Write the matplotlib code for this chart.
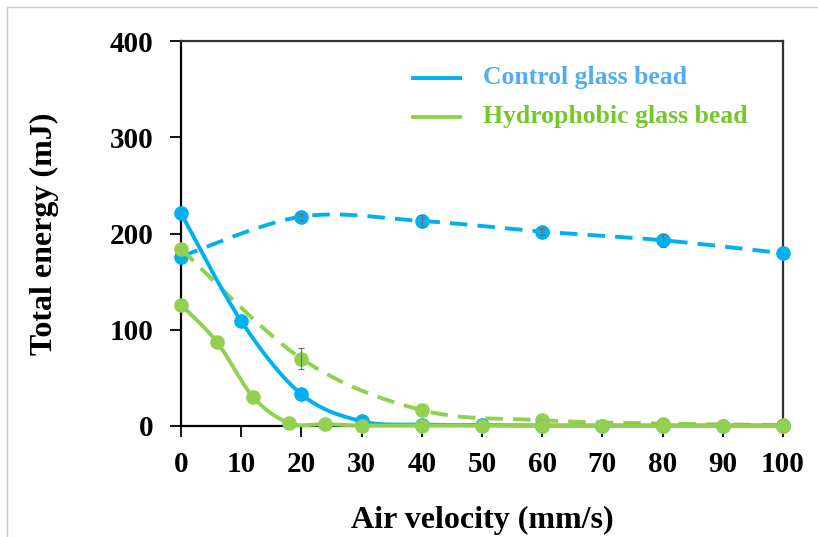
import numpy as np
import matplotlib
matplotlib.use("Agg")
import matplotlib.pyplot as plt
from matplotlib.patches import Rectangle
from matplotlib.lines import Line2D

# ---- data ----
ctrl_solid_x = [0, 10, 20, 30, 40, 50, 60, 70, 80, 90, 100]
ctrl_solid_y = [221, 109, 33, 5, 1.5, 1, 0.5, 0.5, 0.5, 0.5, 0.5]

ctrl_dash_x = [0, 20, 40, 60, 80, 100]
ctrl_dash_y = [176, 217.5, 213, 202, 193, 179.5]
ctrl_dash_err = [0, 3, 6.5, 4, 7, 0]

hyd_dash_x = [0, 20, 40, 60, 80, 100]
hyd_dash_y = [184, 70, 16.5, 6, 2.5, 1]
hyd_dash_err = [0, 11, 0, 0, 0, 0]

hyd_solid_x = [0, 6, 12, 18, 24, 30, 40, 50, 60, 70, 80, 90, 100]
hyd_solid_y = [126, 87, 30, 3, 2, 0.5, 0.5, 0.5, 0.5, 0.5, 0.5, 0.5, 0.5]

xticks = [0, 10, 20, 30, 40, 50, 60, 70, 80, 90, 100]
yticks = [0, 100, 200, 300, 400]
legend_labels = ["Control glass bead", "Hydrophobic glass bead"]

BLUE = "#00B0F0"
GREEN = "#92D050"
BLUE_TXT = "#52ACF0"
GREEN_TXT = "#74C82A"


def smooth(x, y, n=40):
    """Excel-like smoothed line (Catmull-Rom Bezier)."""
    P = np.column_stack([x, y]).astype(float)
    out = []
    for i in range(len(P) - 1):
        p0 = P[i - 1] if i > 0 else P[i]
        p1 = P[i]
        p2 = P[i + 1]
        p3 = P[i + 2] if i + 2 < len(P) else P[i + 1]
        c1 = p1 + (p2 - p0) / 6.0
        c2 = p2 - (p3 - p1) / 6.0
        t = np.linspace(0, 1, n)[:, None]
        seg = ((1 - t) ** 3) * p1 + 3 * ((1 - t) ** 2) * t * c1 + 3 * (1 - t) * t ** 2 * c2 + t ** 3 * p2
        out.append(seg if i == 0 else seg[1:])
    out = np.vstack(out)
    return out[:, 0], out[:, 1]


def errbars(ax, x, y, e, z):
    xs = [a for a, c in zip(x, e) if c > 0]
    ys = [b for b, c in zip(y, e) if c > 0]
    es = [c for c in e if c > 0]
    if xs:
        ax.errorbar(xs, ys, yerr=es, fmt='none', ecolor="#707070",
                    elinewidth=0.8, capsize=2.5, capthick=0.8, zorder=z, clip_on=False)


plt.rcParams['font.family'] = ['Liberation Serif', 'DejaVu Serif']
plt.rcParams['font.weight'] = 'bold'

fig = plt.figure(figsize=(8.18, 5.37), dpi=100)
fig.patches.append(Rectangle((7 / 818, -0.1), 1.2, 1 - 7 / 537 + 0.1, transform=fig.transFigure,
                             fill=False, edgecolor="#C8C8C8", linewidth=1.0))
ax = fig.add_axes([181 / 818, 1 - 426 / 537, 602 / 818, 385 / 537])

lw = 2.8
ms = 9.5
dash = (4.5, 2.6)

# control dashed
sx, sy = smooth(ctrl_dash_x, ctrl_dash_y)
ax.plot(sx, sy, color=BLUE, lw=lw, linestyle=(0, dash), zorder=2, clip_on=False)
ax.plot(ctrl_dash_x, ctrl_dash_y, 'o', color=BLUE, ms=ms, zorder=3, clip_on=False)
errbars(ax, ctrl_dash_x, ctrl_dash_y, ctrl_dash_err, 3.5)

# hydrophobic dashed
sx, sy = smooth(hyd_dash_x, hyd_dash_y)
ax.plot(sx, sy, color=GREEN, lw=lw, linestyle=(0, dash), zorder=4, clip_on=False)
ax.plot(hyd_dash_x, hyd_dash_y, 'o', color=GREEN, ms=ms, zorder=5, clip_on=False)
errbars(ax, hyd_dash_x, hyd_dash_y, hyd_dash_err, 5.5)

# control solid
sx, sy = smooth(ctrl_solid_x, ctrl_solid_y)
ax.plot(sx, sy, color=BLUE, lw=lw, zorder=6, clip_on=False)
ax.plot(ctrl_solid_x, ctrl_solid_y, 'o', color=BLUE, ms=ms, zorder=7, clip_on=False)

# hydrophobic solid
sx, sy = smooth(hyd_solid_x, hyd_solid_y)
ax.plot(sx, sy, color=GREEN, lw=lw, zorder=8, clip_on=False)
ax.plot(hyd_solid_x, hyd_solid_y, 'o', color=GREEN, ms=ms, zorder=9, clip_on=False)

ax.set_xlim(0, 100)
ax.set_ylim(0, 400)
ax.set_xticks(xticks)
ax.set_yticks(yticks)
ax.set_xticklabels([str(v) for v in xticks], fontsize=21, fontweight='bold')
ax.set_yticklabels([str(v) for v in yticks], fontsize=21, fontweight='bold')
ax.tick_params(axis='both', direction='out', length=8, width=1.3, color='black')
ax.tick_params(axis='y', pad=12)
ax.tick_params(axis='x', pad=10)
for s in ['left', 'bottom']:
    ax.spines[s].set_linewidth(1.6)
    ax.spines[s].set_color('black')
for s in ['top', 'right']:
    ax.spines[s].set_linewidth(1.6)
    ax.spines[s].set_color('#333333')

ax.set_xlabel("Air velocity (mm/s)", fontsize=23, fontweight='bold', labelpad=20)
ax.set_ylabel("Total energy (mJ)", fontsize=23, fontweight='bold', labelpad=36)

# legend drawn manually
for (yy, col, tcol, lab) in [(0.904, BLUE, BLUE_TXT, legend_labels[0]),
                             (0.803, GREEN, GREEN_TXT, legend_labels[1])]:
    ax.add_line(Line2D([0.385, 0.463], [yy, yy], transform=ax.transAxes, color=col, lw=lw,
                       clip_on=False, zorder=10))
    ax.text(0.502, yy, lab, transform=ax.transAxes, color=tcol, fontsize=18.5, fontweight='bold',
            va='center', ha='left')

fig.savefig("out.png", dpi=100)
